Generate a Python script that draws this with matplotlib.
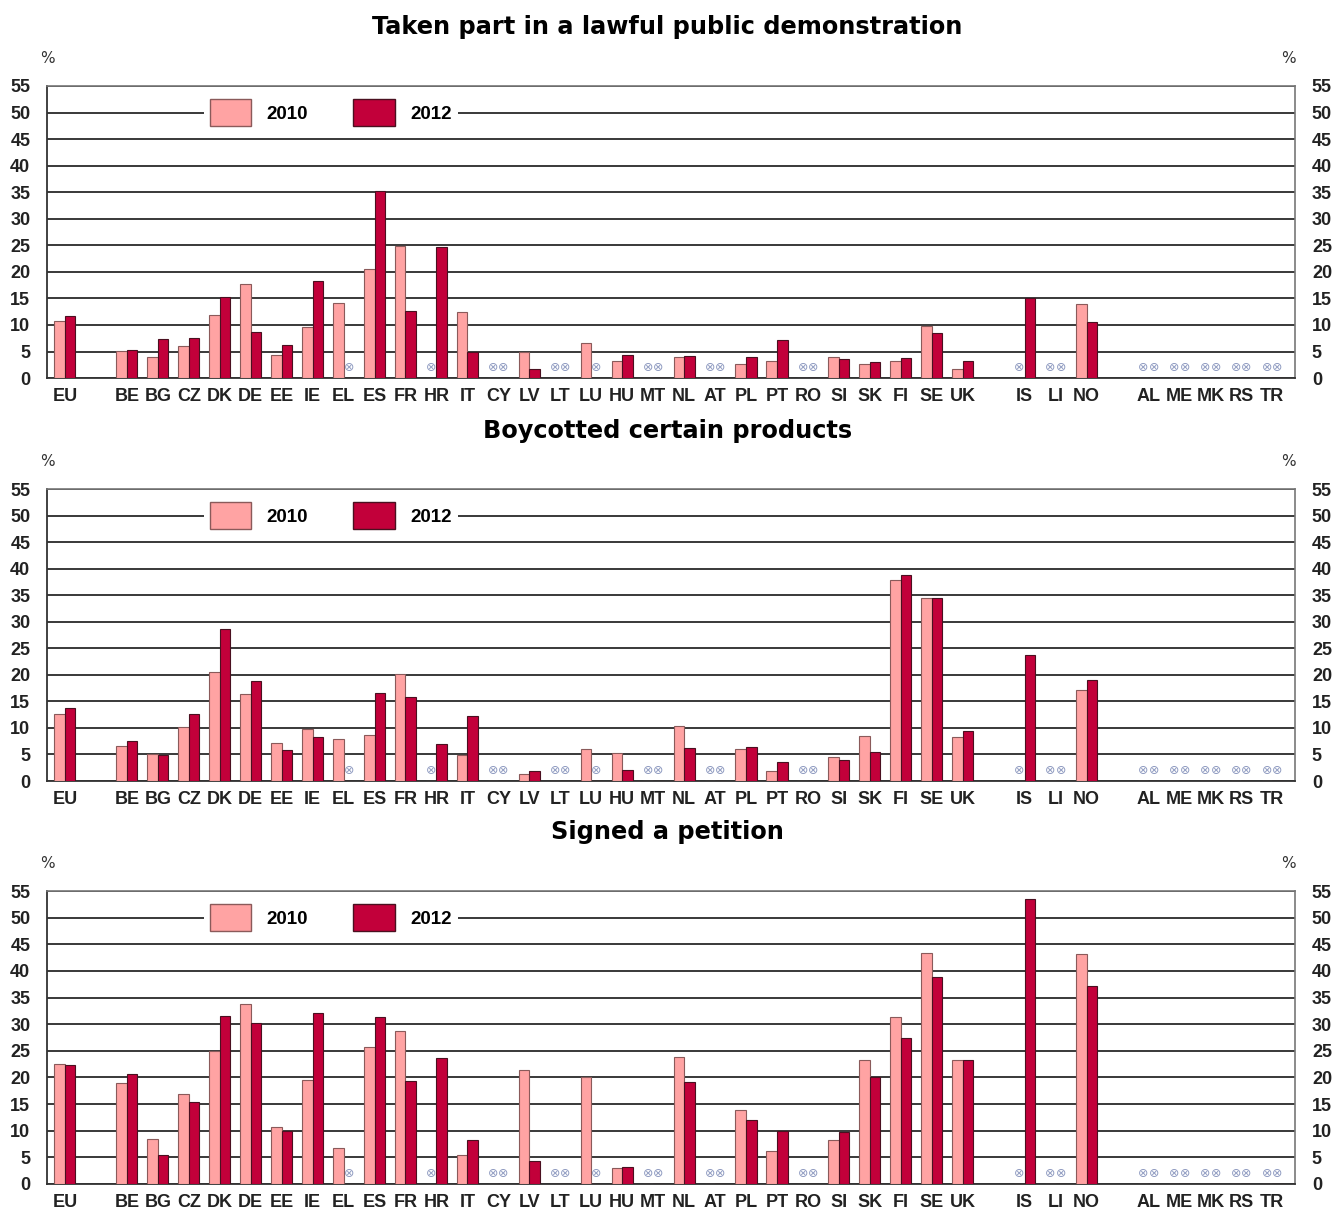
import numpy as np
import matplotlib
matplotlib.use("Agg")
import matplotlib.pyplot as plt
from matplotlib.patches import Patch

nan = np.nan

countries = ["EU",
             "BE", "BG", "CZ", "DK", "DE", "EE", "IE", "EL", "ES", "FR", "HR", "IT", "CY", "LV",
             "LT", "LU", "HU", "MT", "NL", "AT", "PL", "PT", "RO", "SI", "SK", "FI", "SE", "UK",
             "IS", "LI", "NO",
             "AL", "ME", "MK", "RS", "TR"]
# gaps between groups: EU | EU28 | EFTA | candidates
group_sizes = [1, 28, 3, 5]

titles = ["Taken part in a lawful public demonstration",
          "Boycotted certain products",
          "Signed a petition"]

demo_2010 = [10.7,
             5.1, 3.9, 6.1, 11.8, 17.7, 4.3, 9.7, 14.2, 20.6, 24.8, nan, 12.5, nan, 4.9,
             nan, 6.6, 3.2, nan, 4.0, nan, 2.6, 3.2, nan, 4.0, 2.7, 3.3, 9.8, 1.75,
             nan, nan, 14.0,
             nan, nan, nan, nan, nan]
demo_2012 = [11.6,
             5.3, 7.3, 7.5, 15.2, 8.6, 6.2, 18.2, nan, 35.3, 12.7, 24.6, 5.0, nan, 1.75,
             nan, nan, 4.3, nan, 4.1, nan, 3.9, 7.1, nan, 3.5, 3.1, 3.75, 8.5, 3.2,
             15.0, nan, 10.5,
             nan, nan, nan, nan, nan]

boycott_2010 = [12.6,
                6.6, 5.0, 10.2, 20.6, 16.4, 7.1, 9.8, 8.0, 8.65, 20.2, nan, 4.9, nan, 1.4,
                nan, 6.0, 5.3, nan, 10.3, nan, 6.0, 1.8, nan, 4.6, 8.5, 37.9, 34.4, 8.2,
                nan, nan, 17.2,
                nan, nan, nan, nan, nan]
boycott_2012 = [13.7,
                7.5, 4.9, 12.6, 28.6, 18.9, 5.9, 8.3, nan, 16.6, 15.9, 7.0, 12.2, nan, 1.9,
                nan, nan, 2.1, nan, 6.3, nan, 6.4, 3.6, nan, 4.0, 5.4, 38.8, 34.5, 9.4,
                23.7, nan, 19.1,
                nan, nan, nan, nan, nan]

petition_2010 = [22.5,
                 18.9, 8.5, 16.8, 24.9, 33.8, 10.7, 19.5, 6.7, 25.7, 28.7, nan, 5.4, nan, 21.4,
                 nan, 20.0, 3.0, nan, 23.9, nan, 13.9, 6.1, nan, 8.2, 23.3, 31.4, 43.4, 23.2,
                 nan, nan, 43.1,
                 nan, nan, nan, nan, nan]
petition_2012 = [22.4,
                 20.6, 5.5, 15.4, 31.5, 30.3, 9.9, 32.1, nan, 31.3, 19.4, 23.6, 8.3, nan, 4.3,
                 nan, nan, 3.2, nan, 19.2, nan, 12.1, 10.0, nan, 9.7, 20.0, 27.5, 38.8, 23.2,
                 53.5, nan, 37.2,
                 nan, nan, nan, nan, nan]

panels = [(demo_2010, demo_2012), (boycott_2010, boycott_2012), (petition_2010, petition_2012)]

# x positions with one empty slot between groups
xpos = []
x = 0
for g in group_sizes:
    for i in range(g):
        xpos.append(x)
        x += 1
    x += 1
xpos = np.array(xpos, dtype=float)

c2010 = "#FFA3A3"
c2012 = "#C2003A"
na_col = "#8E9AC0"
bw = 0.34

label_font = ["Liberation Sans Narrow", "Liberation Sans", "DejaVu Sans"]

fig = plt.figure(figsize=(13.35, 12.09), dpi=100)

ax_rects = [(0.0352, 0.6873, 0.935, 0.2416),
            (0.0352, 0.3540, 0.935, 0.2415),
            (0.0352, 0.0207, 0.935, 0.2423)]
title_y = [0.9777, 0.6435, 0.3118]
pct_y = [0.952, 0.618, 0.2854]

for k, (v10, v12) in enumerate(panels):
    ax = fig.add_axes(ax_rects[k])
    v10 = np.array(v10, dtype=float)
    v12 = np.array(v12, dtype=float)

    ax.bar(xpos - bw / 2, np.nan_to_num(v10), bw, color=c2010, edgecolor="#8a5a5a",
           linewidth=0.8, zorder=3)
    ax.bar(xpos + bw / 2, np.nan_to_num(v12), bw, color=c2012, edgecolor="#4a1020",
           linewidth=0.8, zorder=3)

    # not available markers
    for xi, a, b in zip(xpos, v10, v12):
        if np.isnan(a):
            ax.text(xi - bw / 2, 1.9, "\u2297", color=na_col, fontsize=9,
                    ha="center", va="center", zorder=4)
        if np.isnan(b):
            ax.text(xi + bw / 2, 1.9, "\u2297", color=na_col, fontsize=9,
                    ha="center", va="center", zorder=4)

    ax.set_xlim(-0.58, xpos[-1] + 0.74)
    ax.set_ylim(0, 55)
    ax.set_yticks(range(0, 56, 5))
    ax.set_xticks(xpos)
    ax.set_xticklabels(countries, family=label_font, fontsize=13, fontweight="bold",
                       color="#222222")
    ax.tick_params(axis="both", length=0)
    ax.tick_params(axis="x", pad=7)
    ax.tick_params(axis="y", pad=12, labelright=True, labelcolor="#222222", labelsize=13)
    for t in ax.yaxis.get_major_ticks():
        for lbl in (t.label1, t.label2):
            lbl.set_family(label_font)
            lbl.set_fontweight("bold")

    ax.set_axisbelow(True)
    ax.yaxis.grid(True, color="#2a2a2a", linewidth=1.3)
    for side in ["left", "bottom"]:
        ax.spines[side].set_color("#333333")
        ax.spines[side].set_linewidth(1.3)
    for side in ["top", "right"]:
        ax.spines[side].set_color("#777777")
        ax.spines[side].set_linewidth(1.2)

    handles = [Patch(facecolor=c2010, edgecolor="#8a5a5a", label="2010"),
               Patch(facecolor=c2012, edgecolor="#4a1020", label="2012")]
    leg = ax.legend(handles=handles, loc="center left", bbox_to_anchor=(0.1258, 50 / 55),
                    ncol=2, frameon=True, fancybox=False, framealpha=1,
                    handlelength=2.2, handleheight=1.8, handletextpad=0.85,
                    columnspacing=2.4, borderpad=0.3, borderaxespad=0,
                    prop={"family": label_font, "weight": "bold", "size": 13.5})
    leg.get_frame().set_edgecolor("white")
    leg.get_frame().set_linewidth(0)

    fig.text(0.5, title_y[k], titles[k], ha="center", va="center",
             fontsize=17.3, fontweight="bold", family="DejaVu Sans")
    fig.text(0.0352, pct_y[k], "%", ha="center", va="center", fontsize=11, color="#333333")
    fig.text(0.9648, pct_y[k], "%", ha="center", va="center", fontsize=11, color="#333333")

fig.savefig("out.png", dpi=100)
